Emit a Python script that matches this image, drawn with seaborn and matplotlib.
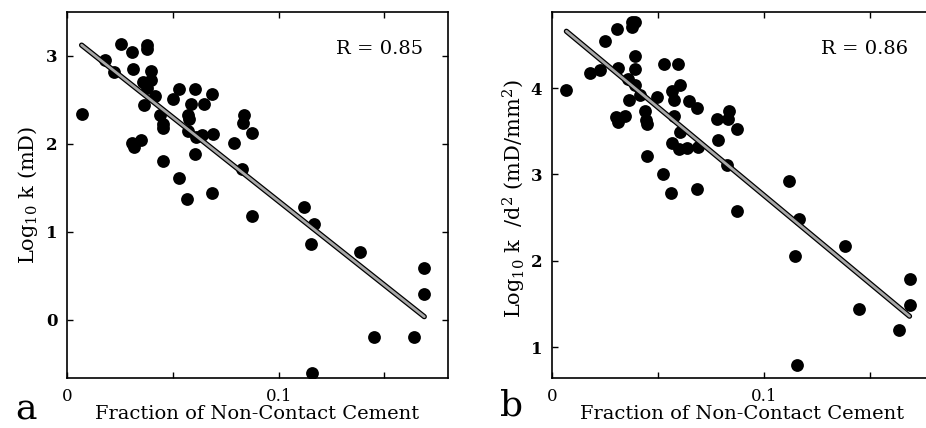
"""
Permeability vs fraction of non-contact cement (panels a and b)
"""
import matplotlib
matplotlib.use('Agg')
import matplotlib.pyplot as plt
import matplotlib.patheffects as pe
import seaborn as sns

# panel a: log10 k (mD)
frac_a = [0.0069, 0.018, 0.0224, 0.0254, 0.0309, 0.031, 0.038, 0.038, 0.0395, 0.036,
          0.0395, 0.038, 0.0416, 0.0365, 0.0306, 0.0317, 0.0348, 0.044, 0.0455, 0.0455,
          0.0455, 0.0499, 0.053, 0.0529, 0.0565, 0.0603, 0.0587, 0.0573, 0.0576, 0.057,
          0.061, 0.0637, 0.0607, 0.0684, 0.0649, 0.0692, 0.0687, 0.079, 0.0838, 0.0833,
          0.0873, 0.0825, 0.0873, 0.1121, 0.1167, 0.1153, 0.1156, 0.1386, 0.145, 0.164,
          0.1688, 0.1686]
logk_a = [2.34, 2.96, 2.82, 3.14, 3.04, 2.85, 3.125, 3.08, 2.83, 2.71,
          2.73, 2.64, 2.54, 2.44, 2.01, 1.97, 2.04, 2.33, 2.23, 2.18,
          1.81, 2.51, 2.63, 1.61, 1.38, 2.63, 2.45, 2.33, 2.28, 2.15,
          2.08, 2.10, 1.89, 2.57, 2.45, 2.11, 1.44, 2.01, 2.33, 2.24,
          2.13, 1.72, 1.18, 1.28, 1.09, 0.86, -0.60, 0.77, -0.19, -0.19,
          0.59, 0.29]

# panel b: log10 k/d^2 (mD/mm^2)
frac_b = [0.0068, 0.0178, 0.0225, 0.0252, 0.0307, 0.0312, 0.0378, 0.039, 0.0378, 0.0394,
          0.0394, 0.036, 0.039, 0.0415, 0.0364, 0.0301, 0.0312, 0.0344, 0.0438, 0.0446,
          0.0451, 0.0451, 0.0498, 0.0527, 0.0596, 0.0565, 0.0604, 0.0577, 0.0576, 0.0604,
          0.0569, 0.0601, 0.0636, 0.0648, 0.0683, 0.0691, 0.0525, 0.0561, 0.0686, 0.078,
          0.0837, 0.0833, 0.0872, 0.0785, 0.0825, 0.0872, 0.1121, 0.1167, 0.1148, 0.1156,
          0.1384, 0.1451, 0.1641, 0.1689, 0.1689]
logk_b = [3.98, 4.17, 4.21, 4.54, 4.68, 4.23, 4.76, 4.76, 4.71, 4.37,
          4.22, 4.10, 4.04, 3.92, 3.86, 3.66, 3.61, 3.68, 3.73, 3.63,
          3.58, 3.21, 3.90, 4.28, 4.28, 3.97, 4.03, 3.86, 3.68, 3.49,
          3.36, 3.29, 3.31, 3.85, 3.77, 3.32, 3.01, 2.78, 2.83, 3.64,
          3.73, 3.64, 3.53, 3.40, 3.11, 2.58, 2.92, 2.48, 2.06, 0.79,
          2.17, 1.44, 1.20, 1.79, 1.49]

xticks = [0, 0.05, 0.1, 0.15]
xticklabels = ['0', '', '0.1', '']
r_labels = ['R = 0.85', 'R = 0.86']
panel_letters = ['a', 'b']
ylabels = ['Log$_{10}$ k (mD)', 'Log$_{10}$ k  /d$^2$ (mD/mm$^2$)']

sns.set_style('ticks')
plt.rcParams['font.family'] = ['DejaVu Serif']
plt.rcParams['mathtext.fontset'] = 'dejavuserif'
for key in ['text.color', 'axes.labelcolor', 'xtick.color', 'ytick.color']:
    plt.rcParams[key] = 'black'

W, H = 926, 428
fig = plt.figure(figsize=(W / 100, H / 100), dpi=100)
ax_a = fig.add_axes([67 / W, 1 - 378 / H, 381 / W, 366 / H])
ax_b = fig.add_axes([552 / W, 1 - 378 / H, 381 / W, 366 / H])

# axes, x, y, ylim, yticks, ylabel position
panels = [(ax_a, frac_a, logk_a, (-0.66, 3.5), [0, 1, 2, 3], (-0.07, 0.5)),
          (ax_b, frac_b, logk_b, (0.645, 4.88), [1, 2, 3, 4], (-0.063, 0.49))]

for i, (ax, x, y, ylim, yticks, ylab_pos) in enumerate(panels):
    sns.regplot(x=x, y=y, ax=ax, ci=None,
                scatter_kws=dict(s=85, color='black', alpha=1, linewidths=0),
                line_kws=dict(color='#a8a8a8', lw=2.0,
                              path_effects=[pe.Stroke(linewidth=3.8, foreground='black'),
                                            pe.Normal()]))
    ax.set_xlim(0, 0.18)
    ax.set_ylim(*ylim)
    ax.set_xticks(xticks)
    ax.set_xticklabels(xticklabels, fontsize=12)
    ax.set_yticks(yticks)
    ax.set_yticklabels([str(t) for t in yticks], fontsize=12, fontweight='semibold')
    ax.tick_params(direction='in', top=True, right=True, length=4, width=1, pad=7)
    for s in ax.spines.values():
        s.set_linewidth(1.2)
        s.set_color('black')
    ax.set_xlabel('Fraction of Non-Contact Cement', fontsize=14)
    ax.xaxis.set_label_coords(0.5, -0.075)
    ax.set_ylabel(ylabels[i], fontsize=15)
    ax.yaxis.set_label_coords(*ylab_pos)
    ax.text(0.934, 0.9, r_labels[i], transform=ax.transAxes, ha='right', va='center',
            fontsize=14)

fig.text(26 / W, 1 - 410 / H, panel_letters[0], fontsize=26, ha='center', va='center')
fig.text(512 / W, 1 - 406 / H, panel_letters[1], fontsize=26, ha='center', va='center')

fig.savefig('out.png', dpi=100)
